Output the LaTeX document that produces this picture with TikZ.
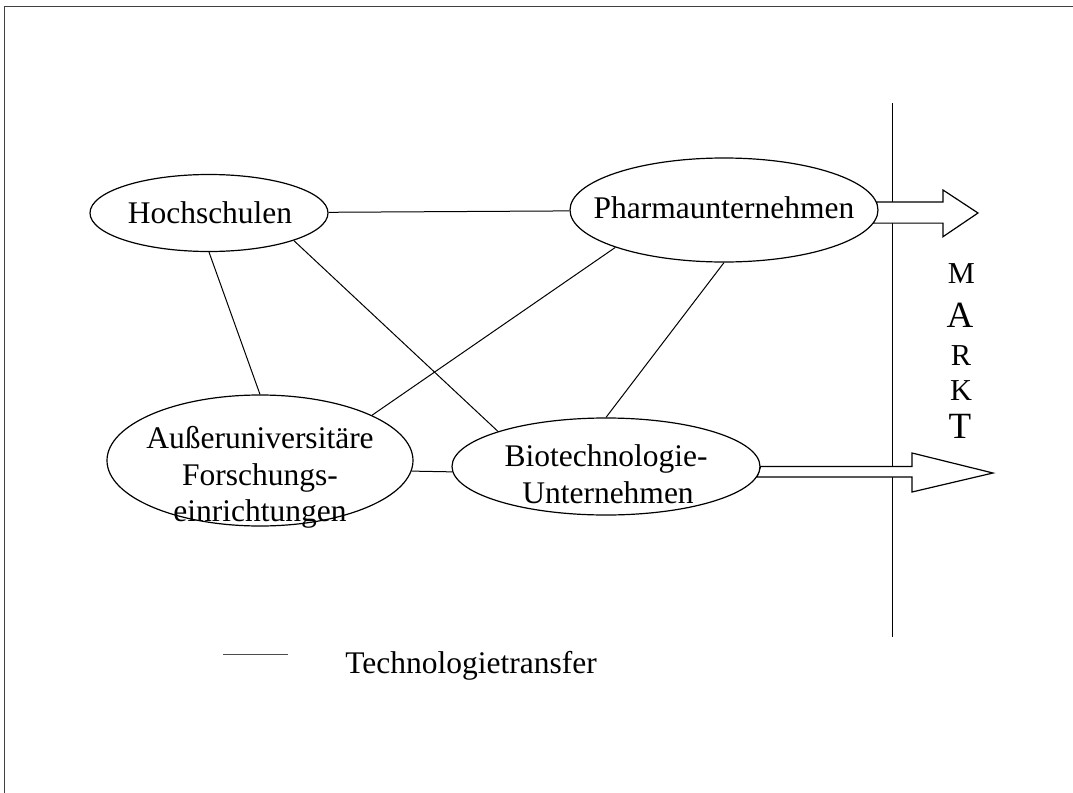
\documentclass[tikz,border=0pt]{standalone}
\usepackage{fontspec}
\setmainfont{Liberation Serif}
\usetikzlibrary{shapes.geometric,backgrounds}
\begin{document}
\begin{tikzpicture}[x=0.5pt,y=-0.5pt,
  oval/.style={ellipse, draw, fill=white, line width=0.6pt, inner sep=0pt},
  txt/.style={anchor=base, inner sep=0pt, font=\fontsize{15.75}{19}\selectfont},
  small letter/.style={anchor=base, inner sep=0pt, font=\fontsize{15.2}{18}\selectfont},
  big letter/.style={anchor=base, inner sep=0pt, font=\fontsize{18.5}{22}\selectfont},
  link/.style={line width=0.5pt},
  bigarrow/.style={draw, fill=white, line width=0.6pt, line join=miter},
  frame/.style={line width=0.7pt, draw=black!75}]
\useasboundingbox (0,0) rectangle (1073,793);

% outer frame (top and left edges)
\draw[frame] (4.5,793) -- (4.5,6.5) -- (1073,6.5);

% actors
\node[oval, minimum width=119pt, minimum height=38.5pt] (H) at (209,213) {};
\node[oval, minimum width=154pt, minimum height=52pt] (P) at (724,210) {};
\node[oval, minimum width=153pt, minimum height=65.5pt] (A) at (260,460.5) {};
\node[oval, minimum width=154pt, minimum height=48.5pt] (B) at (606,466.5) {};

\node[txt] (H-t) at (210,223) {Hochschulen};
\node[txt] (P-t) at (724,218) {Pharmaunternehmen};
\node[txt] (A-t1) at (260,448.5) {Außeruniversitäre};
\node[txt] (A-t2) at (260,485) {Forschungs-};
\node[txt] (A-t3) at (260,521.5) {einrichtungen};
\node[txt] (B-t1) at (606,466.5) {Biotechnologie-};
\node[txt] (B-t2) at (608,503.5) {Unternehmen};

% technology transfer links
\draw[link] (H) -- (P);
\draw[link] (H.south) -- (A.north);
\draw[link] (H.-18.9) -- (B.162.3);
\draw[link] (P.-161.1) -- (A.22.6);
\draw[link] (P.south) -- (B.north);
\draw[link] (A.-4.6) -- (B.182.2);

% market boundary and flows into the market
\coordinate (mk-top) at (892,103);
\coordinate (mk-bot) at (892,637);
\coordinate (h1) at (943,0);
\coordinate (h2) at (912,0);
\begin{scope}[on background layer]
  \draw[link] (mk-top) -- (mk-bot);
  \draw[bigarrow] (P.3.1) -- (P.3.1 -| h1) -- (943,190) -- (978,213)
    -- (943,236.7) -- (P.-5.8 -| h1) -- (P.-5.8) -- cycle;
  \draw[bigarrow] (B.-0.74) -- (B.-0.74 -| h2) -- (912,453) -- (993,473)
    -- (912,492) -- (B.-4.2 -| h2) -- (B.-4.2) -- cycle;
\end{scope}

\node[small letter] (m1) at (961.5,283) {M};
\node[big letter]   (m2) at (960,327) {A};
\node[small letter] (m3) at (961,365) {R};
\node[small letter] (m4) at (961,400) {K};
\node[big letter]   (m5) at (960,438) {T};

% legend
\coordinate (leg-a) at (223,654);
\coordinate (leg-b) at (288,654);
\draw[link, draw=black!70] (leg-a) -- (leg-b);
\node[txt, anchor=base west] (leg-t) at (345,673) {Technologietransfer};
\end{tikzpicture}
\end{document}
